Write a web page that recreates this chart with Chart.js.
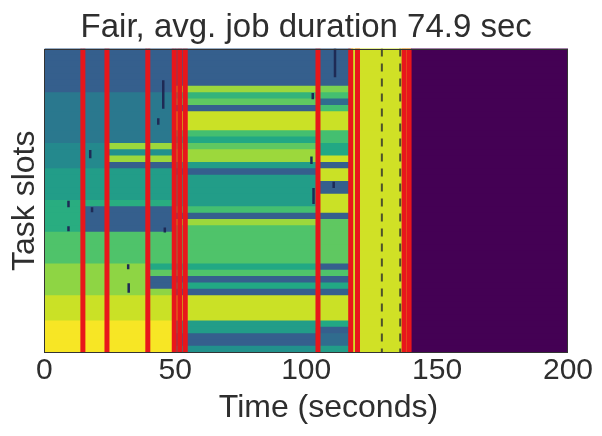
<!DOCTYPE html>
<html>
<head>
<meta charset="utf-8">
<script src="https://cdn.jsdelivr.net/npm/chart.js@4.4.1/dist/chart.umd.min.js"></script>
<style>
  html, body { margin: 0; padding: 0; background: #fff; }
</style>
</head>
<body>
<canvas id="slotChart" width="602" height="436"></canvas>
<script>
// time axis
const xTicks = [0, 50, 100, 150, 200];
const slotCount = 48;

// time segments (seconds) and the colour level of every task slot inside each one
const segmentEdges = [0, 14.7, 23.9, 39.5, 49.6, 104.5, 117, 140, 200];

const slots0 = [
  0.30, 0.30, 0.30, 0.30, 0.30, 0.30, 0.30, 0.40, 0.40, 0.40, 0.40, 0.40,
  0.40, 0.40, 0.40, 0.47, 0.47, 0.47, 0.47, 0.55, 0.55, 0.55, 0.55, 0.55,
  0.62, 0.62, 0.62, 0.62, 0.62, 0.72, 0.72, 0.72, 0.72, 0.72, 0.83, 0.83,
  0.83, 0.83, 0.83, 0.92, 0.92, 0.92, 0.92, 0.99, 0.99, 0.99, 0.99, 0.99
];
const slots15 = [
  0.30, 0.30, 0.30, 0.30, 0.30, 0.30, 0.30, 0.40, 0.40, 0.40, 0.40, 0.40,
  0.40, 0.40, 0.40, 0.47, 0.47, 0.47, 0.47, 0.55, 0.55, 0.55, 0.55, 0.55,
  0.62, 0.30, 0.30, 0.30, 0.30, 0.72, 0.72, 0.72, 0.72, 0.72, 0.83, 0.83,
  0.83, 0.83, 0.83, 0.92, 0.92, 0.92, 0.92, 0.99, 0.99, 0.99, 0.99, 0.99
];
const slots24 = [
  0.30, 0.30, 0.30, 0.30, 0.30, 0.30, 0.30, 0.40, 0.40, 0.40, 0.40, 0.40,
  0.40, 0.40, 0.40, 0.85, 0.50, 0.85, 0.30, 0.55, 0.55, 0.55, 0.55, 0.55,
  0.62, 0.30, 0.30, 0.30, 0.30, 0.72, 0.72, 0.72, 0.72, 0.72, 0.83, 0.83,
  0.83, 0.83, 0.83, 0.92, 0.92, 0.92, 0.92, 0.99, 0.99, 0.99, 0.99, 0.99
];
const slots40 = [
  0.30, 0.30, 0.30, 0.30, 0.30, 0.30, 0.30, 0.40, 0.40, 0.40, 0.40, 0.40,
  0.40, 0.40, 0.40, 0.85, 0.50, 0.85, 0.30, 0.55, 0.55, 0.55, 0.55, 0.55,
  0.62, 0.30, 0.30, 0.30, 0.30, 0.72, 0.72, 0.72, 0.72, 0.72, 0.60, 0.75,
  0.30, 0.30, 0.83, 0.92, 0.92, 0.92, 0.92, 0.99, 0.99, 0.99, 0.99, 0.99
];
const slots50 = [
  0.30, 0.30, 0.30, 0.30, 0.30, 0.30, 0.85, 0.65, 0.75, 0.30, 0.92, 0.92,
  0.92, 0.70, 0.60, 0.75, 0.85, 0.85, 0.55, 0.30, 0.55, 0.55, 0.55, 0.55,
  0.55, 0.70, 0.30, 0.85, 0.72, 0.72, 0.72, 0.72, 0.72, 0.72, 0.60, 0.72,
  0.30, 0.60, 0.30, 0.92, 0.92, 0.92, 0.92, 0.55, 0.55, 0.30, 0.30, 0.50
];
const slots105 = [
  0.30, 0.30, 0.30, 0.30, 0.30, 0.30, 0.80, 0.70, 0.35, 0.70, 0.92, 0.92,
  0.92, 0.70, 0.70, 0.60, 0.60, 0.92, 0.30, 0.92, 0.92, 0.30, 0.30, 0.92,
  0.92, 0.92, 0.30, 0.75, 0.75, 0.75, 0.75, 0.75, 0.75, 0.75, 0.30, 0.72,
  0.30, 0.60, 0.30, 0.92, 0.92, 0.92, 0.92, 0.60, 0.30, 0.35, 0.35, 0.55
];
const slots117 = [
  0.93, 0.93, 0.93, 0.93, 0.93, 0.93, 0.93, 0.93, 0.93, 0.93, 0.93, 0.93,
  0.93, 0.93, 0.93, 0.93, 0.93, 0.93, 0.93, 0.93, 0.93, 0.93, 0.93, 0.93,
  0.93, 0.93, 0.93, 0.93, 0.93, 0.93, 0.93, 0.93, 0.93, 0.93, 0.93, 0.93,
  0.93, 0.93, 0.93, 0.93, 0.93, 0.93, 0.93, 0.93, 0.93, 0.93, 0.93, 0.93
];
const slots140 = [
  0, 0, 0, 0, 0, 0, 0, 0, 0, 0, 0, 0,
  0, 0, 0, 0, 0, 0, 0, 0, 0, 0, 0, 0,
  0, 0, 0, 0, 0, 0, 0, 0, 0, 0, 0, 0,
  0, 0, 0, 0, 0, 0, 0, 0, 0, 0, 0, 0
];
const segmentSlots = [slots0, slots15, slots24, slots40, slots50, slots105, slots117, slots140];

// scheduling events (red) and straggler markers
const redLines = [14.7, 23.9, 39.5, 49.6, 51.7, 53.8, 104.5, 117, 119.6, 137.4, 139.3];
const dashedLines = [128.9, 135.9];
// [time, first slot, last slot]
const darkTicks = [
  [9.2, 24, 25], [9.2, 28, 28.8], [17.5, 16, 17.3], [18.2, 25, 25.8],
  [32, 34, 34.8], [32.2, 37, 38.5], [45.4, 5, 9.5], [43.5, 11, 12],
  [46, 28.2, 29], [102.5, 7, 8], [102, 17, 18.2], [102.8, 22, 24.5],
  [111, 0, 4.5], [110.5, 21, 22], [104.2, 44, 46]
];

const viridisStops = ['#440154', '#482475', '#414487', '#355f8d', '#2a788e', '#21918c',
                      '#22a884', '#44bf70', '#7ad151', '#bddf26', '#fde725'];

function hexToRgb(h) {
    return [1, 3, 5].map(i => parseInt(h.slice(i, i + 2), 16));
}

function viridis(v) {
    const p = Math.max(0, Math.min(1, v)) * (viridisStops.length - 1);
    const i = Math.min(Math.floor(p), viridisStops.length - 2);
    const f = p - i;
    const a = hexToRgb(viridisStops[i]);
    const b = hexToRgb(viridisStops[i + 1]);
    const c = a.map((x, k) => Math.round(x + (b[k] - x) * f));
    return `rgb(${c[0]},${c[1]},${c[2]})`;
}

const FONT = "'Liberation Sans', Arial, Helvetica, sans-serif";
const TEXT = '#2e2e2e';

// heat-map cells as floating horizontal bars
const cellSets = segmentSlots.map((levels, i) => ({
    type: 'bar',
    order: 3,
    data: levels.map((v, r) => ({ x: [segmentEdges[i], segmentEdges[i + 1]], y: r + 0.5 })),
    backgroundColor: levels.map(viridis),
    borderWidth: 0,
    grouped: false,
    barPercentage: 1.25,
    categoryPercentage: 1
}));

const redSets = redLines.map(t => ({
    type: 'line',
    order: 1,
    data: [{ x: t, y: 0 }, { x: t, y: slotCount }],
    borderColor: '#e8161b',
    borderWidth: 5,
    pointRadius: 0,
    borderCapStyle: 'butt'
}));

const dashSets = dashedLines.map(t => ({
    type: 'line',
    order: 2,
    data: [{ x: t, y: 0 }, { x: t, y: slotCount }],
    borderColor: 'rgba(45,45,45,0.8)',
    borderWidth: 2,
    borderDash: [8, 7],
    pointRadius: 0
}));

const tickPoints = [];
darkTicks.forEach(([t, r0, r1]) => {
    tickPoints.push({ x: t, y: r0 }, { x: t, y: r1 }, { x: t, y: null });
});
const tickSet = {
    type: 'line',
    order: 2,
    data: tickPoints,
    borderColor: '#1e2a55',
    borderWidth: 2.5,
    pointRadius: 0,
    spanGaps: false
};

const framePlugin = {
    id: 'frame',
    afterDatasetsDraw(chart) {
        const { ctx, chartArea: a } = chart;
        ctx.save();
        ctx.strokeStyle = '#333';
        ctx.lineWidth = 1;
        ctx.strokeRect(Math.round(a.left) + 0.5, Math.round(a.top) + 0.5,
                       Math.round(a.right - a.left) - 1, Math.round(a.bottom - a.top) - 1);
        ctx.restore();
    }
};

new Chart(document.getElementById('slotChart'), {
    type: 'bar',
    data: { datasets: [...redSets, ...dashSets, tickSet, ...cellSets] },
    options: {
        responsive: false,
        animation: false,
        indexAxis: 'y',
        layout: { padding: { top: 2, left: 4, right: 34, bottom: 0 } },
        plugins: {
            legend: { display: false },
            tooltip: { enabled: false },
            title: {
                display: true,
                fullSize: false,
                text: 'Fair, avg. job duration 74.9 sec',
                color: TEXT,
                font: { family: FONT, size: 33, weight: 'normal' },
                padding: { top: 6, bottom: 1 }
            }
        },
        scales: {
            x: {
                type: 'linear',
                position: 'bottom',
                min: 0,
                max: 200,
                offset: false,
                afterBuildTicks: axis => { axis.ticks = xTicks.map(v => ({ value: v })); },
                ticks: { color: TEXT, font: { family: FONT, size: 30, lineHeight: 1 }, padding: 3, maxRotation: 0 },
                grid: { display: false, drawTicks: false },
                border: { display: false },
                title: {
                    display: true,
                    text: '     Time (seconds)',
                    color: TEXT,
                    font: { family: FONT, size: 32 },
                    padding: { top: 0, bottom: 8.6 }
                }
            },
            y: {
                type: 'linear',
                min: 0,
                max: slotCount,
                reverse: true,
                offset: false,
                ticks: { display: false },
                grid: { display: false, drawTicks: false },
                border: { display: false },
                title: {
                    display: true,
                    text: 'Task slots',
                    color: TEXT,
                    font: { family: FONT, size: 32 },
                    padding: { top: 2, bottom: 0 }
                }
            }
        }
    },
    plugins: [framePlugin]
});
</script>
</body>
</html>
